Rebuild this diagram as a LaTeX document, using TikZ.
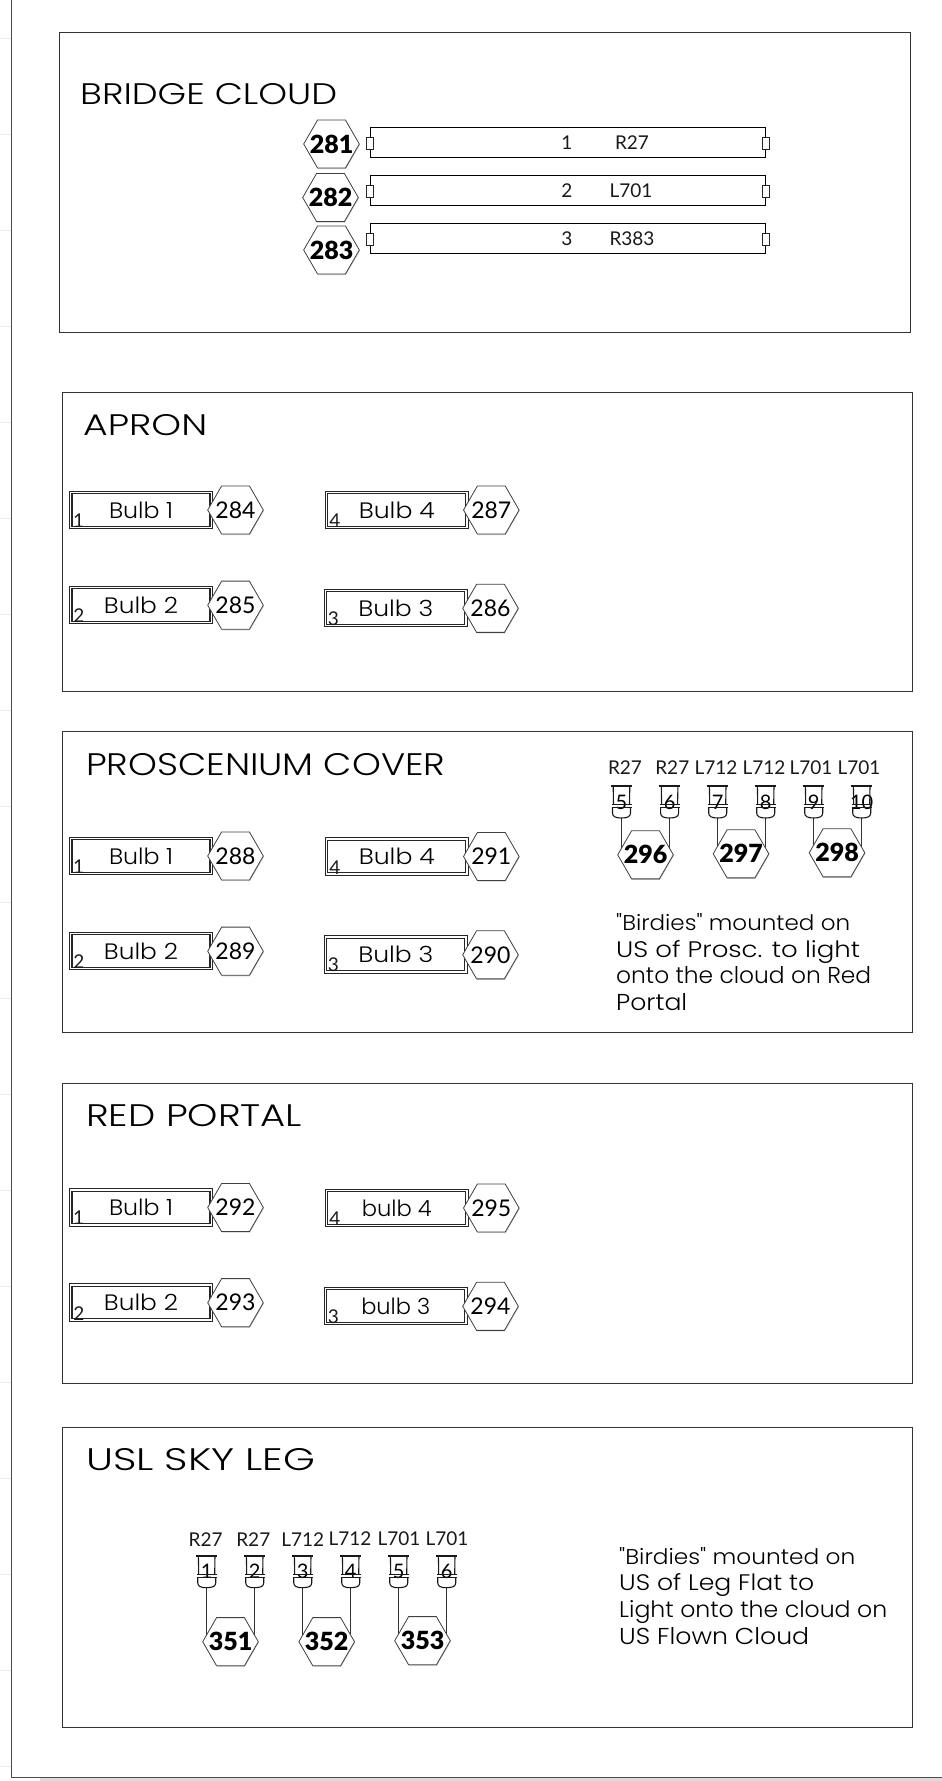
\documentclass[tikz,border=0pt]{standalone}
\usepackage{fontspec}
\usepackage{graphicx}
\setmainfont{Lato}
\newfontfamily\handfont{Poppins Light}
\newfontfamily\blackfont{Lato Black}
\usetikzlibrary{shapes.geometric,shadows,backgrounds}
\newcommand{\hexlabel}[1]{\makebox[0pt]{\raisebox{-.36em}[0pt][0pt]{#1}}}
\tikzset{
  panel/.style={draw=black!80,line width=0.9pt},
  frameline/.style={draw=black!70,line width=1pt},
  tick/.style={draw=black!8,line width=0.8pt},
  hexbase/.style={regular polygon,regular polygon sides=6,minimum size=55.6pt,inner sep=0pt,outer sep=0pt,
    draw=black!75,fill=white,line width=0.8pt,
    drop shadow={shadow xshift=0.6pt,shadow yshift=-1pt,opacity=.4}},
  hexbold/.style={hexbase,font=\fontsize{25}{26}\blackfont},
  hexthin/.style={hexbase,font=\fontsize{23}{26}\selectfont},
  bar/.style={draw=black,line width=1pt,minimum width=395pt,minimum height=30pt,inner sep=0pt,outer sep=0pt},
  conn/.style={draw=black!85,fill=white,line width=0.9pt,minimum width=7pt,minimum height=12pt,inner sep=0pt,outer sep=0pt},
  lbl/.style={font=\fontsize{19}{22}\selectfont,inner sep=0pt,text=black!90},
  bulbbox/.style={draw=black!85,double=white,double distance=1.3pt,line width=1.1pt,minimum width=140.4pt,minimum height=35pt,
    inner sep=0pt,outer sep=0pt,font=\handfont},
  lampnum/.style={minimum width=20pt,minimum height=32pt,inner sep=0pt,outer sep=0pt,font=\fontsize{20}{22}\selectfont,text=black},
  lampline/.style={draw=black!90,line width=1.1pt},
  wire/.style={draw=black!80,line width=1pt},
  titletext/.style={anchor=west,inner sep=0pt,font=\handfont},
  notetext/.style={anchor=north west,inner sep=0pt,align=left,font=\handfont\fontsize{20}{26.7}\selectfont}
}
% name, box centre x, y, width/text, hex centre x, hex y, number x, y, number
\newcommand{\bulb}[9]{%
  \node[bulbbox] (b#1) at (#2,#3) {#4};
  \node[hexthin] (h#1) at (#5,#6) {\hexlabel{#1}};
  \node[lbl] (n#1) at (#7,#8) {#9};
}
% name, x, top y, number
\newcommand{\lamp}[4]{%
  \node[lampnum] (l#1) at (#2,#3+16) {#4};
  \begin{scope}[shift={(l#1.center)}]
    \draw[lampline,line width=2pt] (-10.7,-16) -- (10.7,-16);
    \draw[lampline] (-8.3,-16) -- (-8,2.5) (8.3,-16) -- (8,2.5);
    \draw[lampline] (-10,2.5) -- (10,2.5) (-10,5.7) -- (10,5.7);
    \draw[lampline] (-9,5.7) -- (-9,11) .. controls (-9,14.5) and (-6,16) .. (0,16) .. controls (6,16) and (9,14.5) .. (9,11) -- (9,5.7);
  \end{scope}
}
\begin{document}
\begin{tikzpicture}[x=1pt,y=-1pt]
\path[use as bounding box] (0,0) rectangle (942,1781);
% page furniture
\foreach \k in {0,...,18} {\draw[tick] (0,38+96*\k) -- (11,38+96*\k);}
\fill[black!14] (40,1778) rectangle (942,1781);
\draw[frameline] (11,0) -- (11,1777) -- (942,1777);
% panels
\draw[panel] (59,32.5) rectangle (910,332.5);
\draw[panel] (62.5,392) rectangle (912.5,691);
\draw[panel] (62.5,731) rectangle (912.5,1032);
\draw[panel] (62.5,1083) rectangle (912.5,1383);
\draw[panel] (62.5,1427) rectangle (912.5,1727);
% titles
\node[titletext] (t1) at (80,94.5) {\resizebox{257pt}{21pt}{BRIDGE CLOUD}};
\node[titletext] (t2) at (83,425) {\resizebox{124pt}{21pt}{APRON}};
\node[titletext] (t3) at (86,764.5) {\resizebox{359pt}{22pt}{PROSCENIUM COVER}};
\node[titletext] (t4) at (86,1115.5) {\resizebox{216pt}{22pt}{RED PORTAL}};
\node[titletext] (t5) at (86,1459.5) {\resizebox{229pt}{22pt}{USL SKY LEG}};
% bridge cloud
\node[bar] (bar1) at (567.5,142.5) {};
\node[bar] (bar2) at (567.5,190.5) {};
\node[bar] (bar3) at (567.5,238.7) {};
\node[conn] (c1l) at (369.5,143) {};
\node[conn] (c1r) at (765.5,143) {};
\node[conn] (c2l) at (369.5,191) {};
\node[conn] (c2r) at (765.5,191) {};
\node[conn] (c3l) at (369.5,239.3) {};
\node[conn] (c3r) at (765.5,239) {};
\node[hexbold] (h281) at (331.5,144) {\hexlabel{281}};
\node[hexbold] (h282) at (330.5,197.5) {\hexlabel{282}};
\node[hexbold] (h283) at (331.5,250) {\hexlabel{283}};
\node[lbl] (a1) at (567,142.7) {1};
\node[lbl] (r1) at (632,142.7) {R27};
\node[lbl] (a2) at (567,190.7) {2};
\node[lbl] (r2) at (631,190.7) {L701};
\node[lbl] (a3) at (567,238.7) {3};
\node[lbl] (r3) at (632,238.7) {R383};
% apron
\bulb{284}{141}{510}{\resizebox{64pt}{16.5pt}{Bulb 1}}{235.5}{510}{78.7}{520.7}{1}
\bulb{285}{141}{605}{\resizebox{74pt}{16.5pt}{Bulb 2}}{235.5}{605.2}{79}{615.7}{2}
\bulb{287}{396.8}{510}{\resizebox{76pt}{16.5pt}{Bulb 4}}{491.3}{510}{335}{520.7}{4}
\bulb{286}{395.8}{608}{\resizebox{75pt}{16.5pt}{Bulb 3}}{490.5}{608.3}{333.3}{618.3}{3}
% proscenium cover
\bulb{288}{141}{856}{\resizebox{64pt}{16.5pt}{Bulb 1}}{235.5}{856}{78.7}{866.7}{1}
\bulb{289}{141}{951}{\resizebox{74pt}{16.5pt}{Bulb 2}}{235.5}{951.2}{79}{961.7}{2}
\bulb{291}{396.8}{856.5}{\resizebox{76pt}{16.5pt}{Bulb 4}}{491.3}{856.5}{335}{867.2}{4}
\bulb{290}{395.8}{954.5}{\resizebox{75pt}{16.5pt}{Bulb 3}}{490.5}{954.8}{333.3}{964.8}{3}
% red portal
\bulb{292}{141}{1207.5}{\resizebox{64pt}{16.5pt}{Bulb 1}}{235.5}{1207.5}{78.7}{1218}{1}
\bulb{293}{141}{1302.5}{\resizebox{74pt}{16.5pt}{Bulb 2}}{235.5}{1302.7}{79}{1313.2}{2}
\bulb{295}{396.8}{1208}{\resizebox{70pt}{16.5pt}{bulb 4}}{491.3}{1208}{335}{1218.7}{4}
\bulb{294}{395.8}{1306}{\resizebox{69pt}{16.5pt}{bulb 3}}{490.5}{1306.3}{333.3}{1316.3}{3}
% birdies on proscenium
\lamp{p5}{621.5}{786}{5}
\lamp{p6}{669.6}{786}{6}
\lamp{p7}{717.7}{786}{7}
\lamp{p8}{765.7}{786}{8}
\lamp{p9}{813.7}{786}{9}
\lamp{p10}{861.7}{786}{10}
\node[lbl] (q5) at (625,768) {R27};
\node[lbl] (q6) at (672.3,768) {R27};
\node[lbl] (q7) at (716,768) {L712};
\node[lbl] (q8) at (764,768) {L712};
\node[lbl] (q9) at (811,768) {L701};
\node[lbl] (q10) at (859,768) {L701};
\node[hexbold] (h296) at (645.5,854.8) {\hexlabel{296}};
\node[hexbold] (h297) at (741,853.8) {\hexlabel{297}};
\node[hexbold] (h298) at (837,852.8) {\hexlabel{298}};
% birdies on sky leg
\lamp{s1}{206.7}{1555.7}{1}
\lamp{s2}{254.7}{1555.7}{2}
\lamp{s3}{302.7}{1555.7}{3}
\lamp{s4}{350.7}{1555.7}{4}
\lamp{s5}{398.7}{1555.7}{5}
\lamp{s6}{446.7}{1555.7}{6}
\node[lbl] (u1) at (205.7,1540) {R27};
\node[lbl] (u2) at (253.3,1540) {R27};
\node[lbl] (u3) at (302.7,1540) {L712};
\node[lbl] (u4) at (350,1538.7) {L712};
\node[lbl] (u5) at (399,1539) {L701};
\node[lbl] (u6) at (447,1539) {L701};
\node[hexbold] (h351) at (230.5,1641.7) {\hexlabel{351}};
\node[hexbold] (h352) at (326.7,1641.7) {\hexlabel{352}};
\node[hexbold] (h353) at (422.5,1640.7) {\hexlabel{353}};
\begin{pgfonlayer}{background}
  \foreach \a/\b in {p5/296,p6/296,p7/297,p8/297,p9/298,p10/298,s1/351,s2/351,s3/352,s4/352,s5/353,s6/353}
    {\draw[wire] (l\a.south) -- (l\a.south |- h\b.center);}
\end{pgfonlayer}
% notes
\node[notetext] (note1) at (616,913.2) {\resizebox{234pt}{17pt}{"Birdies" mounted on}\\\resizebox{244pt}{17pt}{US of Prosc. to light}\\\resizebox{255pt}{17pt}{onto the cloud on Red}\\\resizebox{71pt}{17pt}{Portal}};
\node[notetext] (note2) at (619,1547) {\resizebox{236pt}{17pt}{"Birdies" mounted on}\\\resizebox{195pt}{17pt}{US of Leg Flat to}\\\resizebox{268pt}{17pt}{Light onto the cloud on}\\\resizebox{190pt}{17pt}{US Flown Cloud}};
\end{tikzpicture}
\end{document}
